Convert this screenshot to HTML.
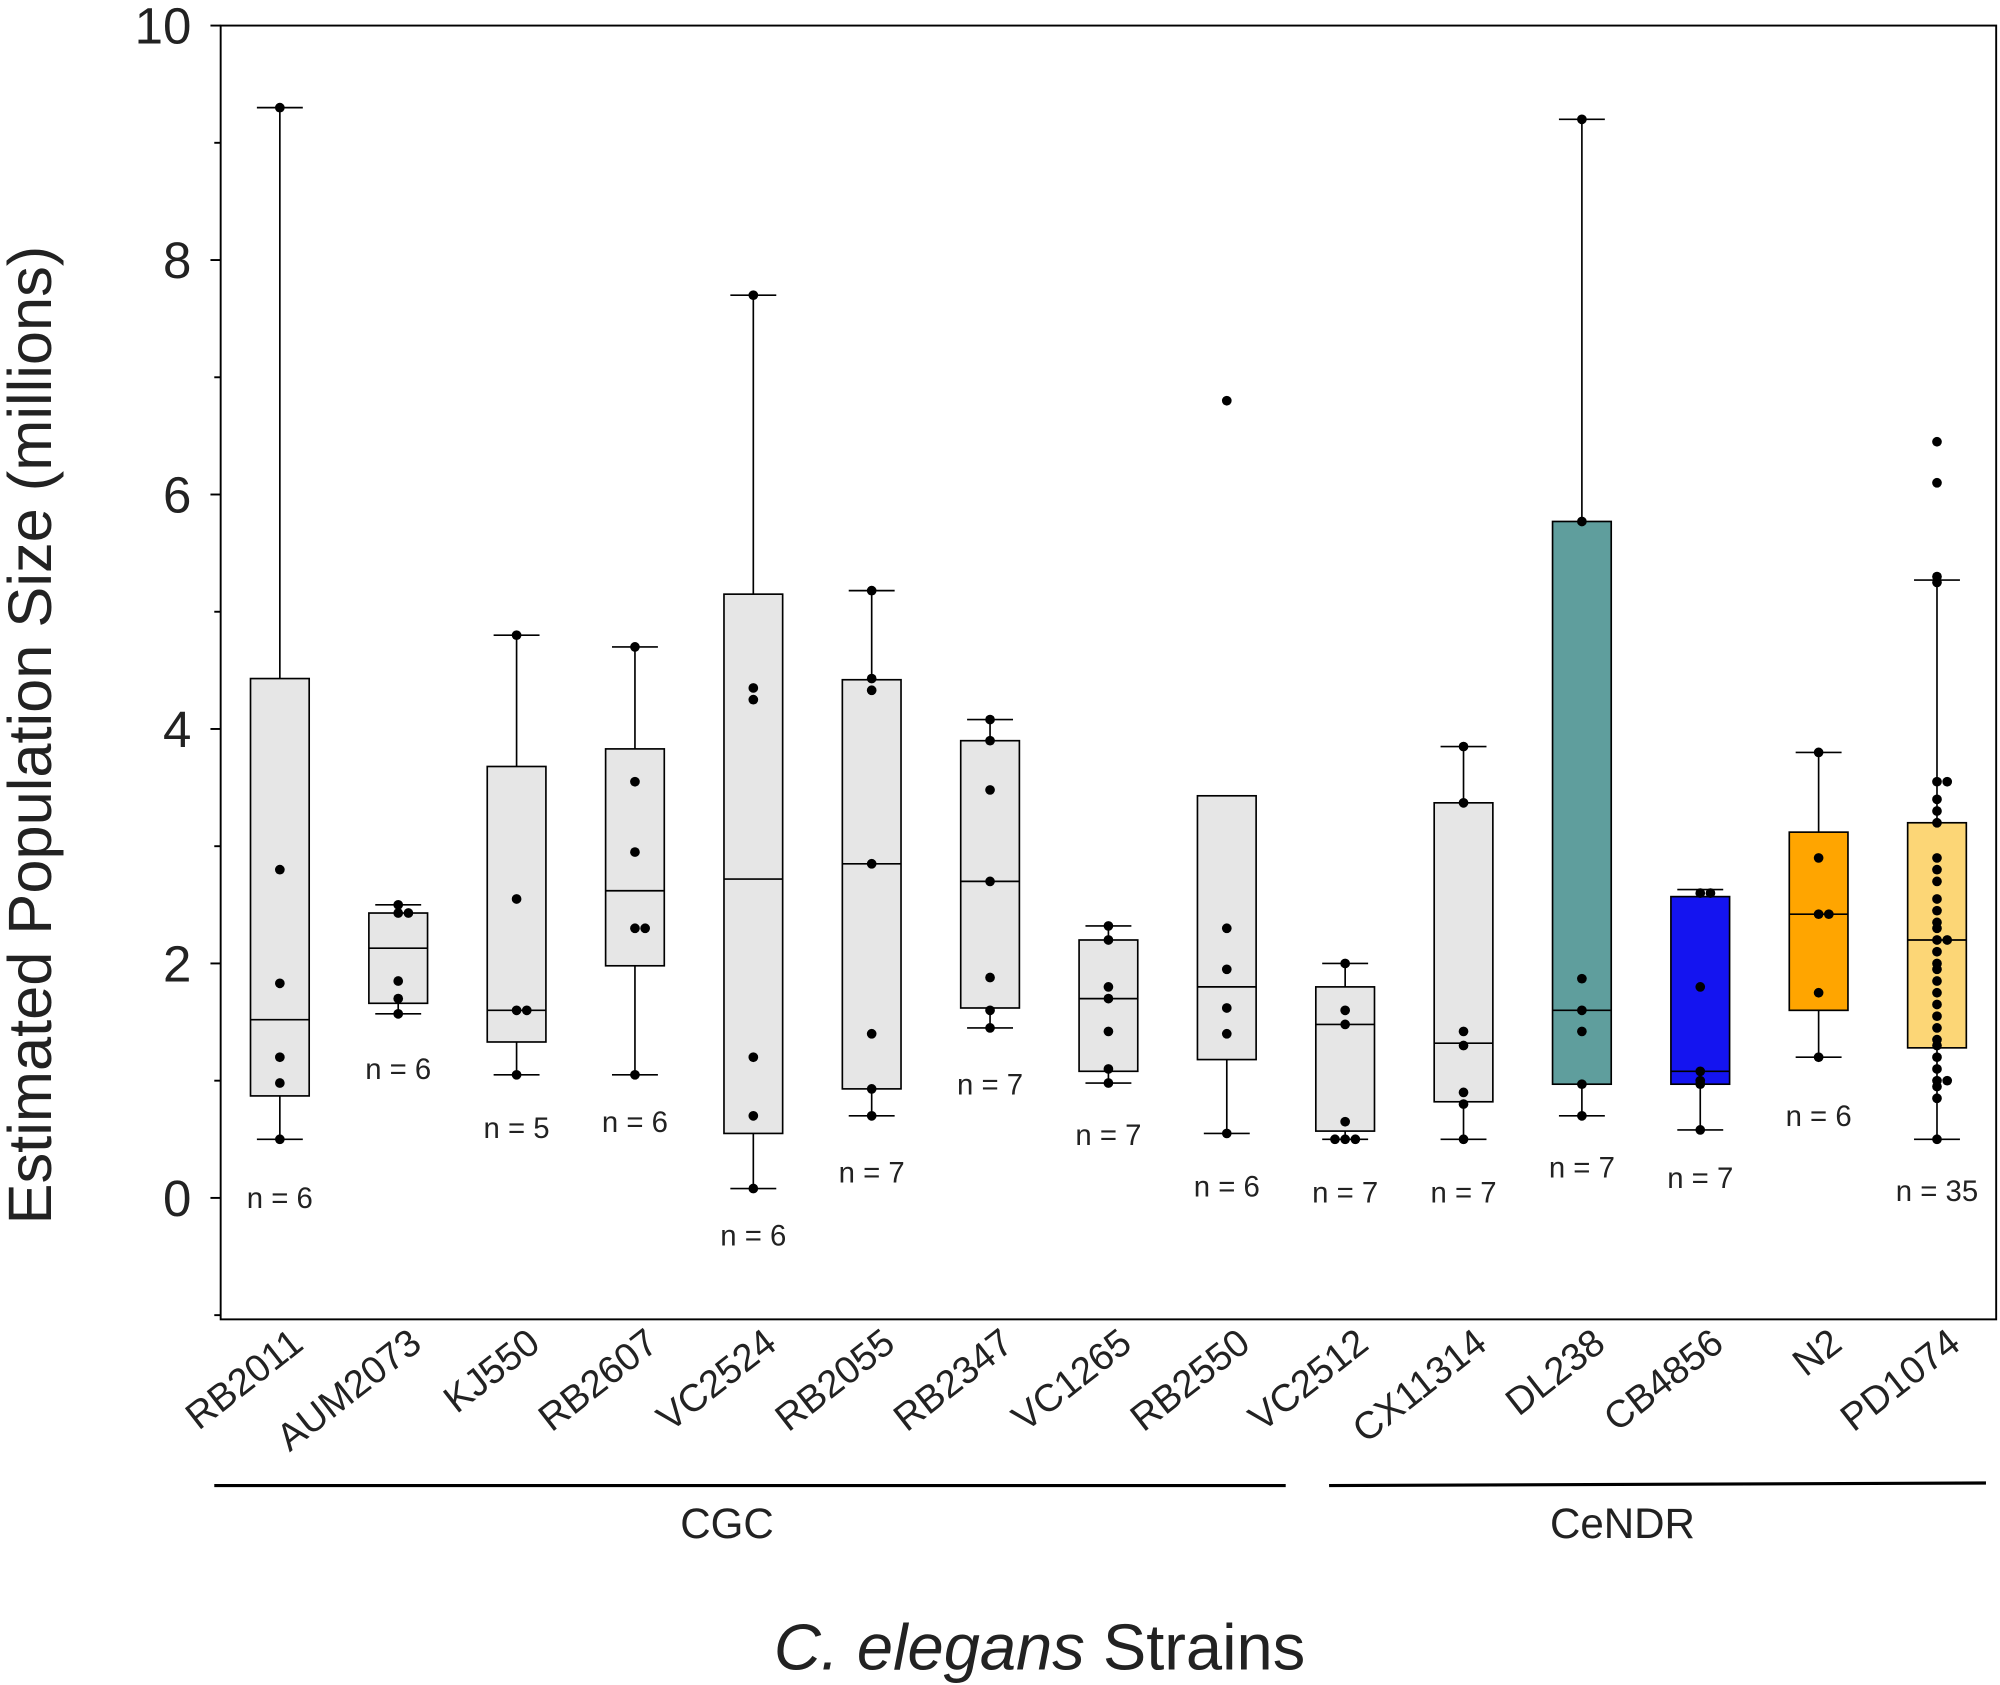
<!DOCTYPE html>
<html><head><meta charset="utf-8"><style>
html,body{margin:0;padding:0;background:#fff}
svg{display:block;font-family:"Liberation Sans",sans-serif}
</style></head><body>
<svg id="chart" width="2000" height="1685" viewBox="0 0 1568 1318" preserveAspectRatio="none" xmlns="http://www.w3.org/2000/svg">
<rect x="173" y="20" width="1392" height="1012" fill="none" stroke="#000" stroke-width="1.5"/>
<g id="axis"></g><g id="marks"></g>
<text transform="translate(40,575) rotate(-90)" text-anchor="middle" font-size="48" fill="#222">Estimated Population Size (millions)</text>
<line x1="168" y1="1162" x2="1008" y2="1162" stroke="#000" stroke-width="2.5"/>
<line x1="1042" y1="1162" x2="1557" y2="1160" stroke="#000" stroke-width="2.5"/>
<text x="570" y="1203" text-anchor="middle" font-size="33" fill="#222">CGC</text>
<text x="1272" y="1203" text-anchor="middle" font-size="33" fill="#222">CeNDR</text>
<text x="815" y="1306" text-anchor="middle" font-size="51" fill="#222"><tspan font-style="italic">C. elegans</tspan> Strains</text>
</svg>
<script>
const categories=["RB2011","AUM2073","KJ550","RB2607","VC2524","RB2055","RB2347","VC1265","RB2550","VC2512","CX11314","DL238","CB4856","N2","PD1074"];
const whiskerLow=[0.5,1.57,1.05,1.05,0.08,0.7,1.45,0.98,0.55,0.5,0.5,0.7,0.58,1.2,0.5];
const whiskerHigh=[9.3,2.5,4.8,4.7,7.7,5.18,4.08,2.32,3.43,2.0,3.85,9.2,2.63,3.8,5.27];
const q1=[0.87,1.66,1.33,1.98,0.55,0.93,1.62,1.08,1.18,0.57,0.82,0.97,0.97,1.6,1.28];
const q3=[4.43,2.43,3.68,3.83,5.15,4.42,3.9,2.2,3.43,1.8,3.37,5.77,2.57,3.12,3.2];
const medians=[1.52,2.13,1.6,2.62,2.72,2.85,2.7,1.7,1.8,1.48,1.32,1.6,1.08,2.42,2.2];
const points=[
[9.3,2.8,1.83,1.2,0.98,0.5],
[2.5,2.43,2.43,1.85,1.7,1.57],
[4.8,2.55,1.6,1.6,1.05],
[4.7,3.55,2.95,2.3,2.3,1.05],
[7.7,4.35,4.25,1.2,0.7,0.08],
[5.18,4.43,4.33,2.85,1.4,0.93,0.7],
[4.08,3.9,3.48,2.7,1.88,1.6,1.45],
[2.32,2.2,1.8,1.7,1.42,1.1,0.98],
[6.8,2.3,1.95,1.62,1.4,0.55],
[2.0,1.6,1.48,0.65,0.5,0.5,0.5],
[3.85,3.37,1.42,1.3,0.9,0.8,0.5],
[9.2,5.77,1.87,1.6,1.42,0.97,0.7],
[2.6,2.6,1.8,1.08,1.0,0.97,0.58],
[3.8,2.9,2.42,2.42,1.75,1.2],
[6.45,6.1,5.3,5.25,3.55,3.55,3.4,3.3,3.2,2.9,2.8,2.7,2.55,2.45,2.35,2.3,2.2,2.2,2.1,2.0,1.95,1.85,1.75,1.65,1.55,1.45,1.35,1.3,1.2,1.1,1.0,1.0,0.95,0.85,0.5]];
const nLabels=["n = 6","n = 6","n = 5","n = 6","n = 6","n = 7","n = 7","n = 7","n = 6","n = 7","n = 7","n = 7","n = 7","n = 6","n = 35"];
const nLabelValues=[0,1.1,0.6,0.65,-0.32,0.22,0.97,0.54,0.1,0.05,0.05,0.26,0.17,0.7,0.06];
const fills=["#e6e6e6","#e6e6e6","#e6e6e6","#e6e6e6","#e6e6e6","#e6e6e6","#e6e6e6","#e6e6e6","#e6e6e6","#e6e6e6","#e6e6e6","#5f9e9d","#1414f0","#ffa500","#fcd676"];
const yTicks=[0,2,4,6,8,10];
const NS="http://www.w3.org/2000/svg";
const L=173,R=1565;
const y=v=>937-91.7*v;
const bw=(R-L)/categories.length;
const x=i=>L+bw*(i+0.5);
function mk(tag,attrs,parent){const e=document.createElementNS(NS,tag);for(const k in attrs)e.setAttribute(k,attrs[k]);parent.appendChild(e);return e;}
const ax=document.getElementById('axis'),mg=document.getElementById('marks');
for(let v=-1;v<=10;v++){
 const t=mk('line',{x1:L,x2:L-(v%2===0?8:5),y1:y(v),y2:y(v),stroke:'#000','stroke-width':1.5},ax);
 
 
}
yTicks.forEach(v=>{
 const t=mk('text',{x:150,y:y(v)+14,'text-anchor':'end','font-size':40,fill:'#222'},ax);t.textContent=v;
 
 
});
categories.forEach((c,i)=>{
 const cx=x(i),hw=23;
 const g=mk('g',{},mg);
 
 
 mk('line',{x1:cx,x2:cx,y1:y(whiskerHigh[i]),y2:y(q3[i]),stroke:'#000','stroke-width':1.3},g);
 mk('line',{x1:cx,x2:cx,y1:y(q1[i]),y2:y(whiskerLow[i]),stroke:'#000','stroke-width':1.3},g);
 if(whiskerHigh[i]>q3[i]) mk('line',{x1:cx-18,x2:cx+18,y1:y(whiskerHigh[i]),y2:y(whiskerHigh[i]),stroke:'#000','stroke-width':1.3},g);
 mk('line',{x1:cx-18,x2:cx+18,y1:y(whiskerLow[i]),y2:y(whiskerLow[i]),stroke:'#000','stroke-width':1.3},g);
 mk('rect',{x:cx-hw,y:y(q3[i]),width:2*hw,height:y(q1[i])-y(q3[i]),fill:fills[i],stroke:'#000','stroke-width':1.3},g);
 mk('line',{x1:cx-hw,x2:cx+hw,y1:y(medians[i]),y2:y(medians[i]),stroke:'#000','stroke-width':1.3},g);
 const seen={};
 points[i].forEach(v=>{
  const k=v.toFixed(2);seen[k]=(seen[k]||0)+1;const n=seen[k]-1;
  const off=n===0?0:(n%2?1:-1)*Math.ceil(n/2)*8;
  const p=mk('circle',{cx:cx+off,cy:y(v),r:3.8,fill:'#000'},g);
  
  
 });
 const nl=mk('text',{x:cx,y:y(nLabelValues[i])+8,'text-anchor':'middle','font-size':23,fill:'#222'},mg);nl.textContent=nLabels[i];
 
 
 const xl=mk('text',{transform:`translate(${cx+20},1054) rotate(-38)`,'text-anchor':'end','font-size':30,fill:'#222'},ax);xl.textContent=c;
 
 
});
</script>
</body></html>
